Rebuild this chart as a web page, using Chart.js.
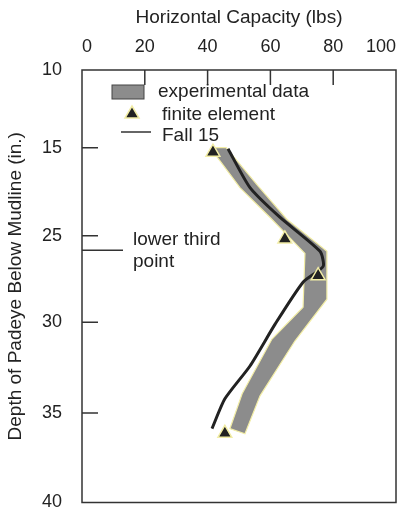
<!DOCTYPE html>
<html>
<head>
<meta charset="utf-8">
<script src="https://cdn.jsdelivr.net/npm/chart.js@4/dist/chart.umd.min.js"></script>
<style>
  html, body { margin: 0; padding: 0; background: #fff; }
  #wrap { width: 407px; height: 512px; }
</style>
</head>
<body>
<div id="wrap"><canvas id="myChart" width="407" height="512"></canvas></div>
<script>
// Valores (capacidad en lbs, profundidad en unidades del eje).
const capacityTicks = [0, 20, 40, 60, 80, 100];
const depthTickValues = [10, 15.4, 21.5, 27.5, 33.8, 40];
const depthTickLabels = ["10", "15", "25", "30", "35", "40"];

// Banda experimental: borde izquierdo (arriba -> abajo) y borde derecho (abajo -> arriba)
const bandLeftCap = [40.8, 50.3, 59.9, 71.0, 70.4, 60.5, 51.0, 47.1];
const bandLeftDepth = [15.39, 18.16, 20.23, 22.72, 26.45, 28.66, 32.46, 34.88];
const bandRightCap = [51.9, 56.7, 67.8, 78.0, 78.0, 65.3, 55.7, 45.9];
const bandRightDepth = [35.23, 32.60, 28.80, 25.90, 22.58, 20.37, 17.95, 15.39];

// Elemento finito
const feCap = [41.7, 64.6, 75.2, 45.5];
const feDepth = [15.7, 21.72, 24.27, 35.2];

// Fall 15
const fallCap = [46.5, 53.5, 63.1, 75.8, 76.8, 70.4, 61.5, 53.5, 45.5, 41.4];
const fallDepth = [15.46, 18.16, 20.23, 22.58, 23.62, 24.72, 27.63, 30.53, 32.81, 34.88];

const lowerThirdDepth = 22.5;

const FONT = "'Liberation Sans', Arial, Helvetica, sans-serif";
const TXT = "#222";

function toPoints(xs, ys) {
    return xs.map((x, i) => ({x: x, y: ys[i]}));
}

let bandPoints = toPoints(bandLeftCap, bandLeftDepth).concat(toPoints(bandRightCap, bandRightDepth));
bandPoints.push(bandPoints[0]);

// Marco, marcas hacia adentro, leyenda y anotacion
const extras = {
    id: "extras",
    afterDatasetsDraw(chart) {
        const ctx = chart.ctx;
        const a = chart.chartArea;
        const xs = chart.scales.x, ys = chart.scales.y;
        ctx.save();
        ctx.strokeStyle = "#333";
        ctx.lineWidth = 1.5;
        ctx.strokeRect(a.left, a.top, a.right - a.left, a.bottom - a.top);
        ctx.beginPath();
        capacityTicks.slice(1, -1).forEach(v => {
            const px = xs.getPixelForValue(v);
            ctx.moveTo(px, a.top);
            ctx.lineTo(px, a.top + 15);
        });
        depthTickValues.slice(1, -1).forEach(v => {
            const py = ys.getPixelForValue(v);
            ctx.moveTo(a.left, py);
            ctx.lineTo(a.left + 16, py);
        });
        // lower third point
        const ly = ys.getPixelForValue(lowerThirdDepth);
        ctx.moveTo(a.left, ly);
        ctx.lineTo(a.left + 41, ly);
        ctx.stroke();

        ctx.fillStyle = TXT;
        ctx.font = "19px " + FONT;
        ctx.textBaseline = "middle";
        ctx.textAlign = "left";
        ctx.fillText("lower third", a.left + 51, ly - 10);
        ctx.fillText("point", a.left + 51, ly + 12);

        // leyenda
        ctx.fillStyle = "#8c8c8c";
        ctx.fillRect(112, 85, 32, 14);
        ctx.strokeStyle = "#444";
        ctx.lineWidth = 1;
        ctx.strokeRect(112, 85, 32, 14);

        ctx.beginPath();
        ctx.moveTo(132, 106);
        ctx.lineTo(139, 118);
        ctx.lineTo(125, 118);
        ctx.closePath();
        ctx.fillStyle = "#222";
        ctx.fill();
        ctx.strokeStyle = "#f2eda6";
        ctx.lineWidth = 1.5;
        ctx.stroke();

        ctx.beginPath();
        ctx.strokeStyle = "#333";
        ctx.lineWidth = 1.5;
        ctx.moveTo(121, 132);
        ctx.lineTo(151, 132);
        ctx.stroke();

        ctx.fillStyle = TXT;
        ctx.fillText("experimental data", 158, 92);
        ctx.fillText("finite element", 162, 115);
        ctx.fillText("Fall 15", 162, 136);
        ctx.restore();
    }
};

let ctx = document.getElementById("myChart");
let myChart = new Chart(ctx, {
    type: "scatter",
    data: {
        datasets: [
            {
                label: "finite element",
                data: toPoints(feCap, feDepth),
                pointStyle: "triangle",
                pointRadius: 8,
                pointBackgroundColor: "#222",
                pointBorderColor: "#f2eda6",
                pointBorderWidth: 1.5
            },
            {
                label: "Fall 15",
                data: toPoints(fallCap, fallDepth),
                showLine: true,
                borderColor: "#222",
                borderWidth: 3,
                pointRadius: 0,
                tension: 0.2
            },
            {
                label: "experimental data",
                data: bandPoints,
                showLine: true,
                fill: "shape",
                backgroundColor: "#8c8c8c",
                borderColor: "#f2eda6",
                borderWidth: 1.2,
                pointRadius: 0,
                tension: 0
            }
        ]
    },
    options: {
        responsive: false,
        animation: false,
        layout: {padding: {left: 0, right: 11, top: 0, bottom: 8}},
        plugins: {
            legend: {display: false},
            tooltip: {enabled: false}
        },
        scales: {
            x: {
                type: "linear",
                position: "top",
                min: 0,
                max: 100,
                grid: {display: false},
                border: {display: false},
                afterBuildTicks: s => { s.ticks = capacityTicks.map(v => ({value: v})); },
                ticks: {
                    align: "inner",
                    color: TXT,
                    padding: 4,
                    font: {family: FONT, size: 18}
                },
                title: {
                    display: true,
                    text: "Horizontal Capacity (lbs)",
                    color: TXT,
                    padding: {top: 6, bottom: 0},
                    font: {family: FONT, size: 19}
                },
                afterFit: s => { s.height = 70; s.paddingLeft = 0; s.paddingRight = 0; }
            },
            y: {
                type: "linear",
                reverse: true,
                min: 10,
                max: 40,
                grid: {display: false},
                border: {display: false},
                afterBuildTicks: s => { s.ticks = depthTickValues.map(v => ({value: v})); },
                ticks: {
                    color: TXT,
                    padding: 12,
                    font: {family: FONT, size: 18},
                    callback: (v, i) => depthTickLabels[i]
                },
                title: {
                    display: true,
                    text: "Depth of Padeye Below Mudline (in.)",
                    color: TXT,
                    padding: {top: 4, bottom: 0},
                    font: {family: FONT, size: 19}
                },
                afterFit: s => { s.width = 82; s.paddingTop = 0; s.paddingBottom = 0; }
            }
        }
    },
    plugins: [extras]
});
</script>
</body>
</html>
